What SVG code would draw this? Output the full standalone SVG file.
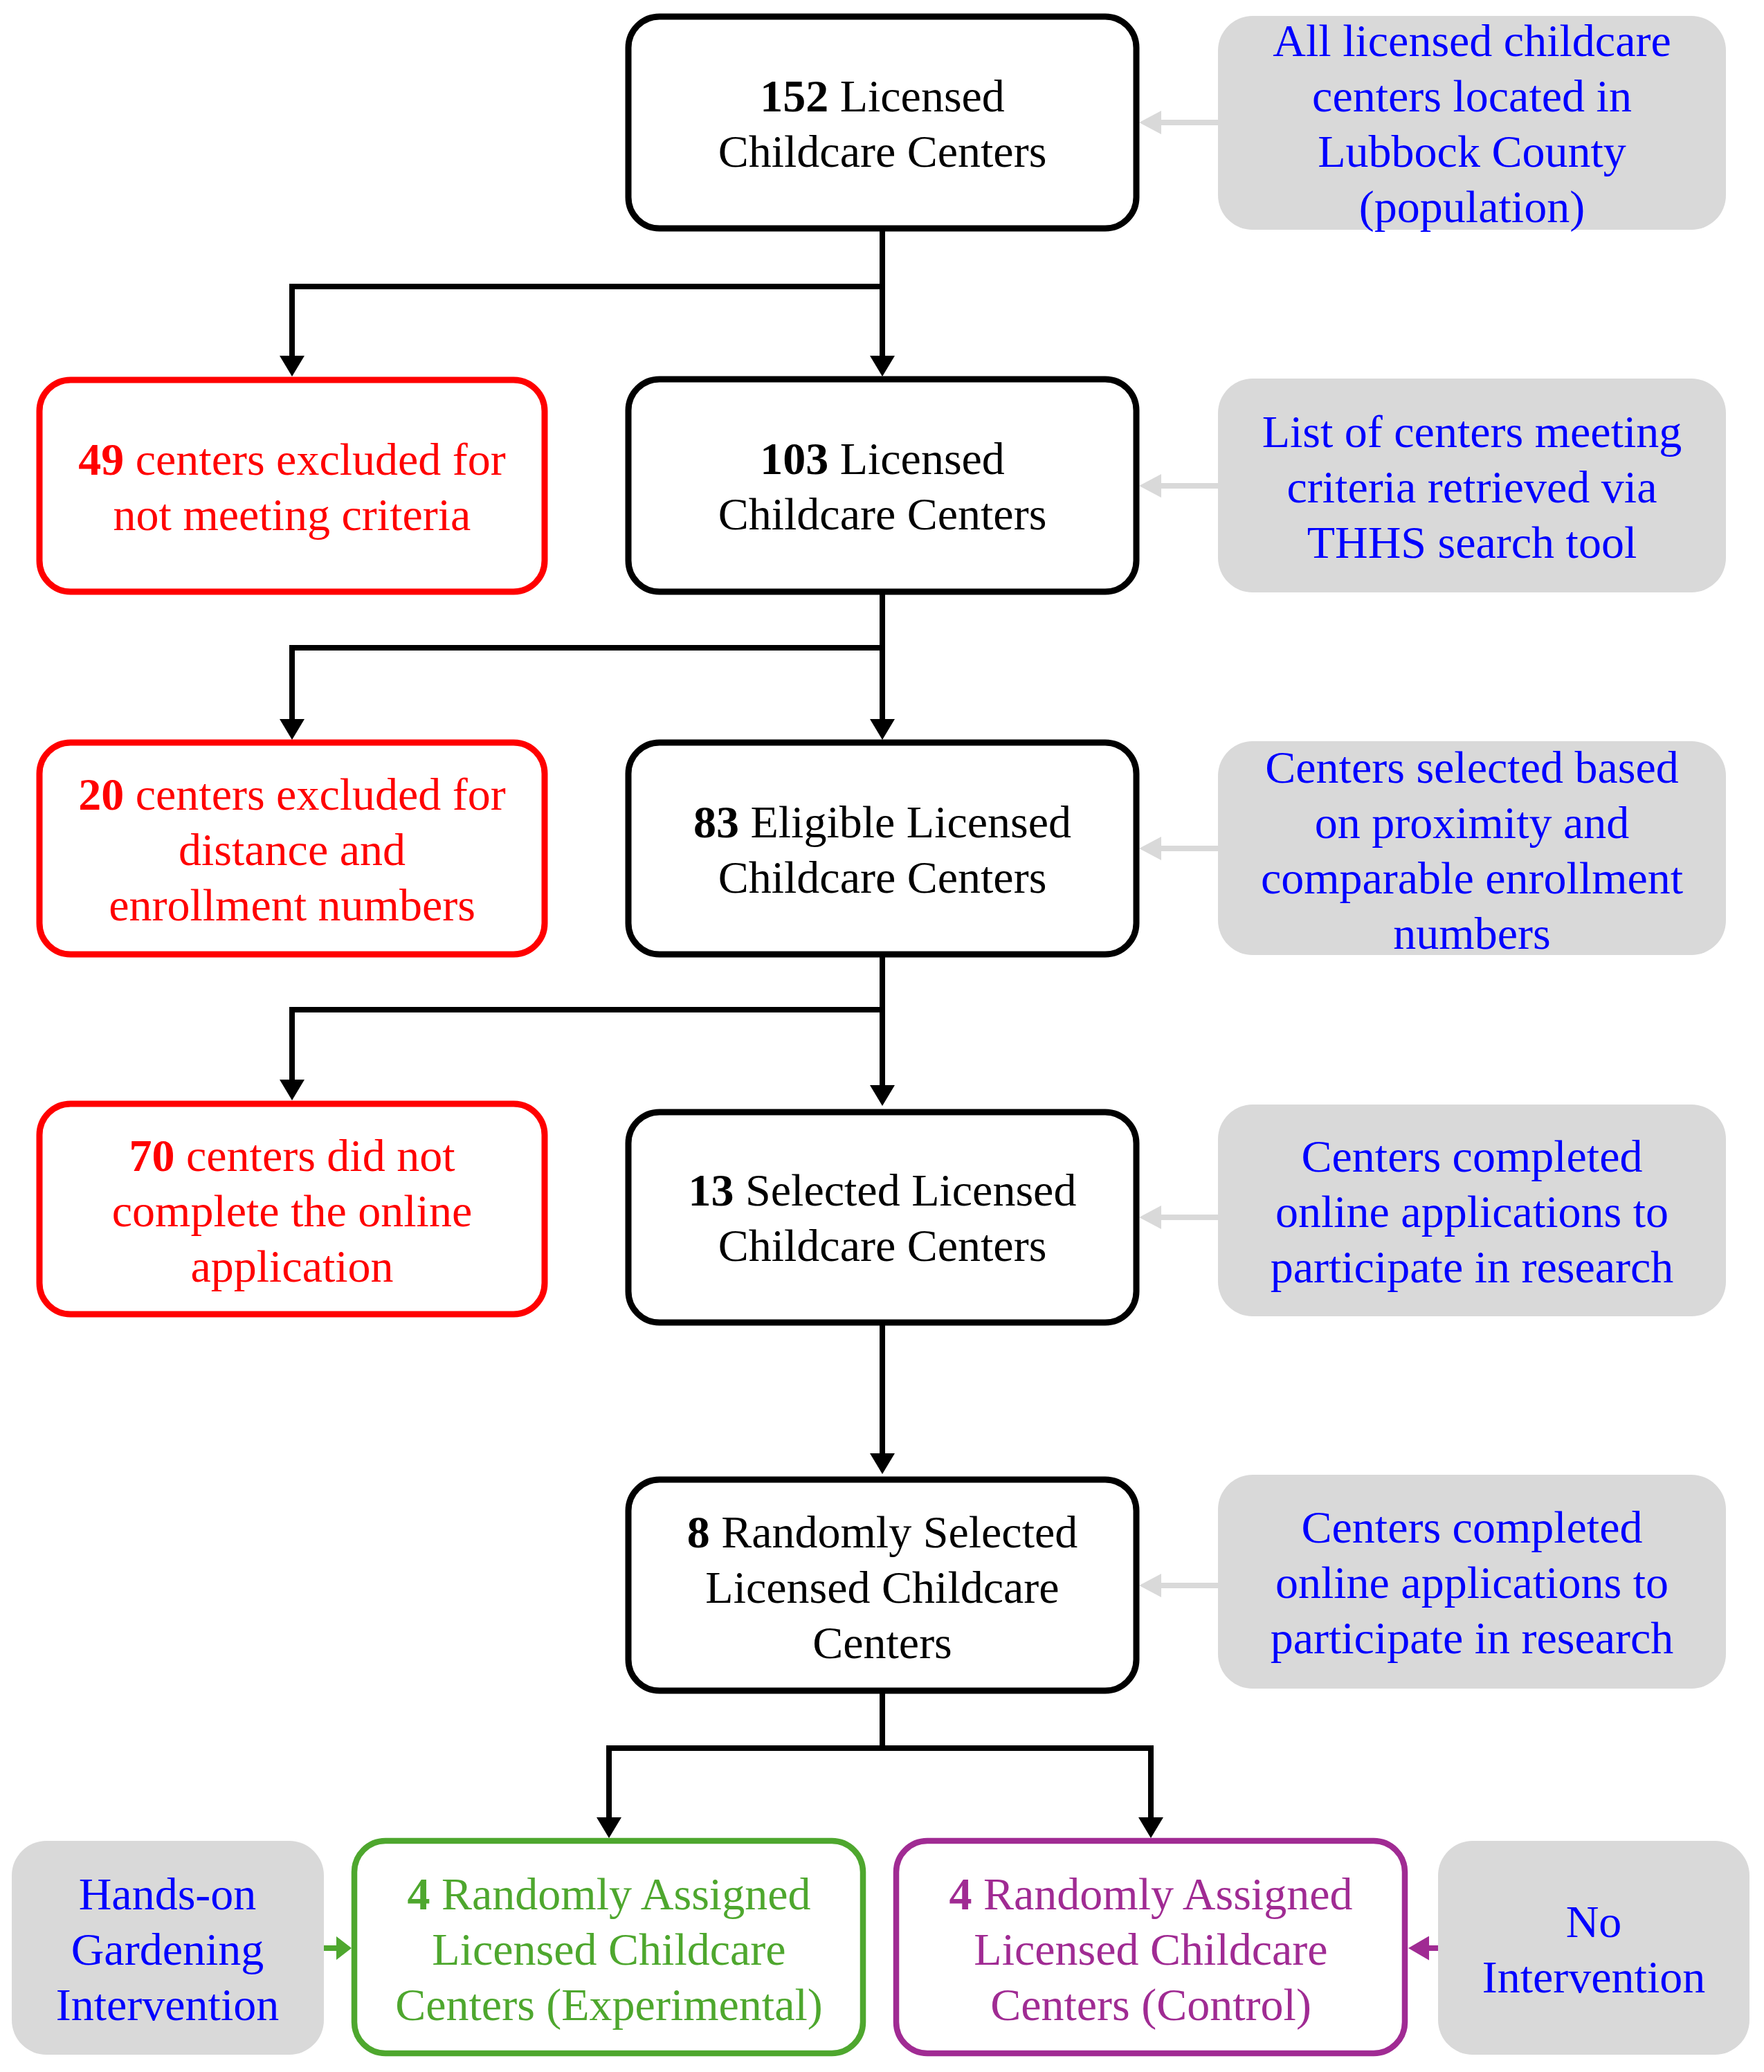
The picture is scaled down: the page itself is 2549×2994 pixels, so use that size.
<svg xmlns="http://www.w3.org/2000/svg" width="2549" height="2994" viewBox="0 0 2549 2994">
<defs>
<style>
text{font-family:"Liberation Serif","Times New Roman",serif;font-size:66px;text-anchor:middle}
.b{font-weight:bold}
.main{fill:#fff;stroke:#000;stroke-width:9}
.red{fill:#fff;stroke:#ff0000;stroke-width:9}
.grn{fill:#fff;stroke:#4ea72e;stroke-width:8.5}
.pur{fill:#fff;stroke:#a02b93;stroke-width:8.5}
.gray{fill:#d9d9d9}
.tk{fill:#000}
.tr{fill:#ff0000}
.tb{fill:#0000ff}
.tg{fill:#4ea72e}
.tp{fill:#a02b93}
.ln{fill:none;stroke:#000;stroke-width:8}
.lg{fill:none;stroke:#d9d9d9;stroke-width:8}
.lgr{fill:none;stroke:#4ea72e;stroke-width:8}
.lpu{fill:none;stroke:#a02b93;stroke-width:8}
</style>
<marker id="ab" markerUnits="userSpaceOnUse" viewBox="0 0 30 36" refX="0" refY="18" markerWidth="30" markerHeight="36" orient="auto"><path d="M0,0 L30,18 L0,36 z" fill="#000"/></marker>
<marker id="ag" markerUnits="userSpaceOnUse" viewBox="0 0 32 34" refX="0" refY="17" markerWidth="32" markerHeight="34" orient="auto"><path d="M0,0 L32,17 L0,34 z" fill="#d9d9d9"/></marker>
<marker id="agr" markerUnits="userSpaceOnUse" viewBox="0 0 22 34" refX="0" refY="17" markerWidth="22" markerHeight="34" orient="auto"><path d="M0,0 L22,17 L0,34 z" fill="#4ea72e"/></marker>
<marker id="apu" markerUnits="userSpaceOnUse" viewBox="0 0 30 35" refX="0" refY="17.5" markerWidth="30" markerHeight="35" orient="auto"><path d="M0,0 L30,17.5 L0,35 z" fill="#a02b93"/></marker>
</defs>
<rect width="2549" height="2994" fill="#fff"/>

<g id="connectors">
<path class="ln" d="M1275,334 V514" marker-end="url(#ab)"/>
<path class="ln" d="M1275,414 H422 V514" marker-end="url(#ab)"/>
<path class="ln" d="M1275,859 V1039" marker-end="url(#ab)"/>
<path class="ln" d="M1275,936 H422 V1039" marker-end="url(#ab)"/>
<path class="ln" d="M1275,1383 V1568" marker-end="url(#ab)"/>
<path class="ln" d="M1275,1459 H422 V1560" marker-end="url(#ab)"/>
<path class="ln" d="M1275,1915 V2100" marker-end="url(#ab)"/>
<path class="ln" d="M1275,2447 V2526"/>
<path class="ln" d="M876,2526 H1663 V2626" marker-end="url(#ab)"/>
<path class="ln" d="M880,2522 V2626" marker-end="url(#ab)"/>
<path class="lg" d="M1760,177 H1678" marker-end="url(#ag)"/>
<path class="lg" d="M1760,702 H1678" marker-end="url(#ag)"/>
<path class="lg" d="M1760,1226 H1678" marker-end="url(#ag)"/>
<path class="lg" d="M1760,1759 H1678" marker-end="url(#ag)"/>
<path class="lg" d="M1760,2291 H1678" marker-end="url(#ag)"/>
<path class="lgr" d="M468,2815 H486" marker-end="url(#agr)"/>
<path class="lpu" d="M2078,2815 H2065" marker-end="url(#apu)"/>
</g>

<g id="n152">
<rect class="main" x="908" y="24" width="734" height="306" rx="45"/>
<text class="tk" x="1275" y="161"><tspan class="b">152</tspan> Licensed</text>
<text class="tk" x="1275" y="241">Childcare Centers</text>
</g>
<g id="g1">
<rect class="gray" x="1760" y="23" width="734" height="309" rx="50"/>
<text class="tb" x="2127" y="81">All licensed childcare</text>
<text class="tb" x="2127" y="161">centers located in</text>
<text class="tb" x="2127" y="241">Lubbock County</text>
<text class="tb" x="2127" y="321">(population)</text>
</g>

<g id="r49">
<rect class="red" x="57" y="549" width="730" height="306" rx="45"/>
<text class="tr" x="422" y="686"><tspan class="b">49</tspan> centers excluded for</text>
<text class="tr" x="422" y="766">not meeting criteria</text>
</g>
<g id="n103">
<rect class="main" x="908" y="548" width="734" height="307" rx="45"/>
<text class="tk" x="1275" y="685"><tspan class="b">103</tspan> Licensed</text>
<text class="tk" x="1275" y="765">Childcare Centers</text>
</g>
<g id="g2">
<rect class="gray" x="1760" y="547" width="734" height="309" rx="50"/>
<text class="tb" x="2127" y="646">List of centers meeting</text>
<text class="tb" x="2127" y="726">criteria retrieved via</text>
<text class="tb" x="2127" y="806">THHS search tool</text>
</g>

<g id="r20">
<rect class="red" x="57" y="1073" width="730" height="306" rx="45"/>
<text class="tr" x="422" y="1170"><tspan class="b">20</tspan> centers excluded for</text>
<text class="tr" x="422" y="1250">distance and</text>
<text class="tr" x="422" y="1330">enrollment numbers</text>
</g>
<g id="n83">
<rect class="main" x="908" y="1073" width="734" height="306" rx="45"/>
<text class="tk" x="1275" y="1210"><tspan class="b">83</tspan> Eligible Licensed</text>
<text class="tk" x="1275" y="1290">Childcare Centers</text>
</g>
<g id="g3">
<rect class="gray" x="1760" y="1071" width="734" height="309" rx="50"/>
<text class="tb" x="2127" y="1131">Centers selected based</text>
<text class="tb" x="2127" y="1211">on proximity and</text>
<text class="tb" x="2127" y="1291">comparable enrollment</text>
<text class="tb" x="2127" y="1371">numbers</text>
</g>

<g id="r70">
<rect class="red" x="57" y="1595" width="730" height="304" rx="45"/>
<text class="tr" x="422" y="1692"><tspan class="b">70</tspan> centers did not</text>
<text class="tr" x="422" y="1772">complete the online</text>
<text class="tr" x="422" y="1852">application</text>
</g>
<g id="n13">
<rect class="main" x="908" y="1607" width="734" height="304" rx="45"/>
<text class="tk" x="1275" y="1742"><tspan class="b">13</tspan> Selected Licensed</text>
<text class="tk" x="1275" y="1822">Childcare Centers</text>
</g>
<g id="g4">
<rect class="gray" x="1760" y="1596" width="734" height="306" rx="50"/>
<text class="tb" x="2127" y="1693">Centers completed</text>
<text class="tb" x="2127" y="1773">online applications to</text>
<text class="tb" x="2127" y="1853">participate in research</text>
</g>

<g id="n8">
<rect class="main" x="908" y="2138" width="734" height="305" rx="45"/>
<text class="tk" x="1275" y="2236"><tspan class="b">8</tspan> Randomly Selected</text>
<text class="tk" x="1275" y="2316">Licensed Childcare</text>
<text class="tk" x="1275" y="2396">Centers</text>
</g>
<g id="g5">
<rect class="gray" x="1760" y="2131" width="734" height="309" rx="50"/>
<text class="tb" x="2127" y="2229">Centers completed</text>
<text class="tb" x="2127" y="2309">online applications to</text>
<text class="tb" x="2127" y="2389">participate in research</text>
</g>

<g id="gleft">
<rect class="gray" x="17" y="2660" width="451" height="309" rx="50"/>
<text class="tb" x="242" y="2759">Hands-on</text>
<text class="tb" x="242" y="2839">Gardening</text>
<text class="tb" x="242" y="2919">Intervention</text>
</g>
<g id="exp">
<rect class="grn" x="512" y="2660" width="735" height="307" rx="45"/>
<text class="tg" x="880" y="2759"><tspan class="b">4</tspan> Randomly Assigned</text>
<text class="tg" x="880" y="2839">Licensed Childcare</text>
<text class="tg" x="880" y="2919">Centers (Experimental)</text>
</g>
<g id="ctl">
<rect class="pur" x="1295" y="2660" width="735" height="307" rx="45"/>
<text class="tp" x="1663" y="2759"><tspan class="b">4</tspan> Randomly Assigned</text>
<text class="tp" x="1663" y="2839">Licensed Childcare</text>
<text class="tp" x="1663" y="2919">Centers (Control)</text>
</g>
<g id="gright">
<rect class="gray" x="2078" y="2660" width="450" height="309" rx="50"/>
<text class="tb" x="2303" y="2799">No</text>
<text class="tb" x="2303" y="2879">Intervention</text>
</g>
</svg>
